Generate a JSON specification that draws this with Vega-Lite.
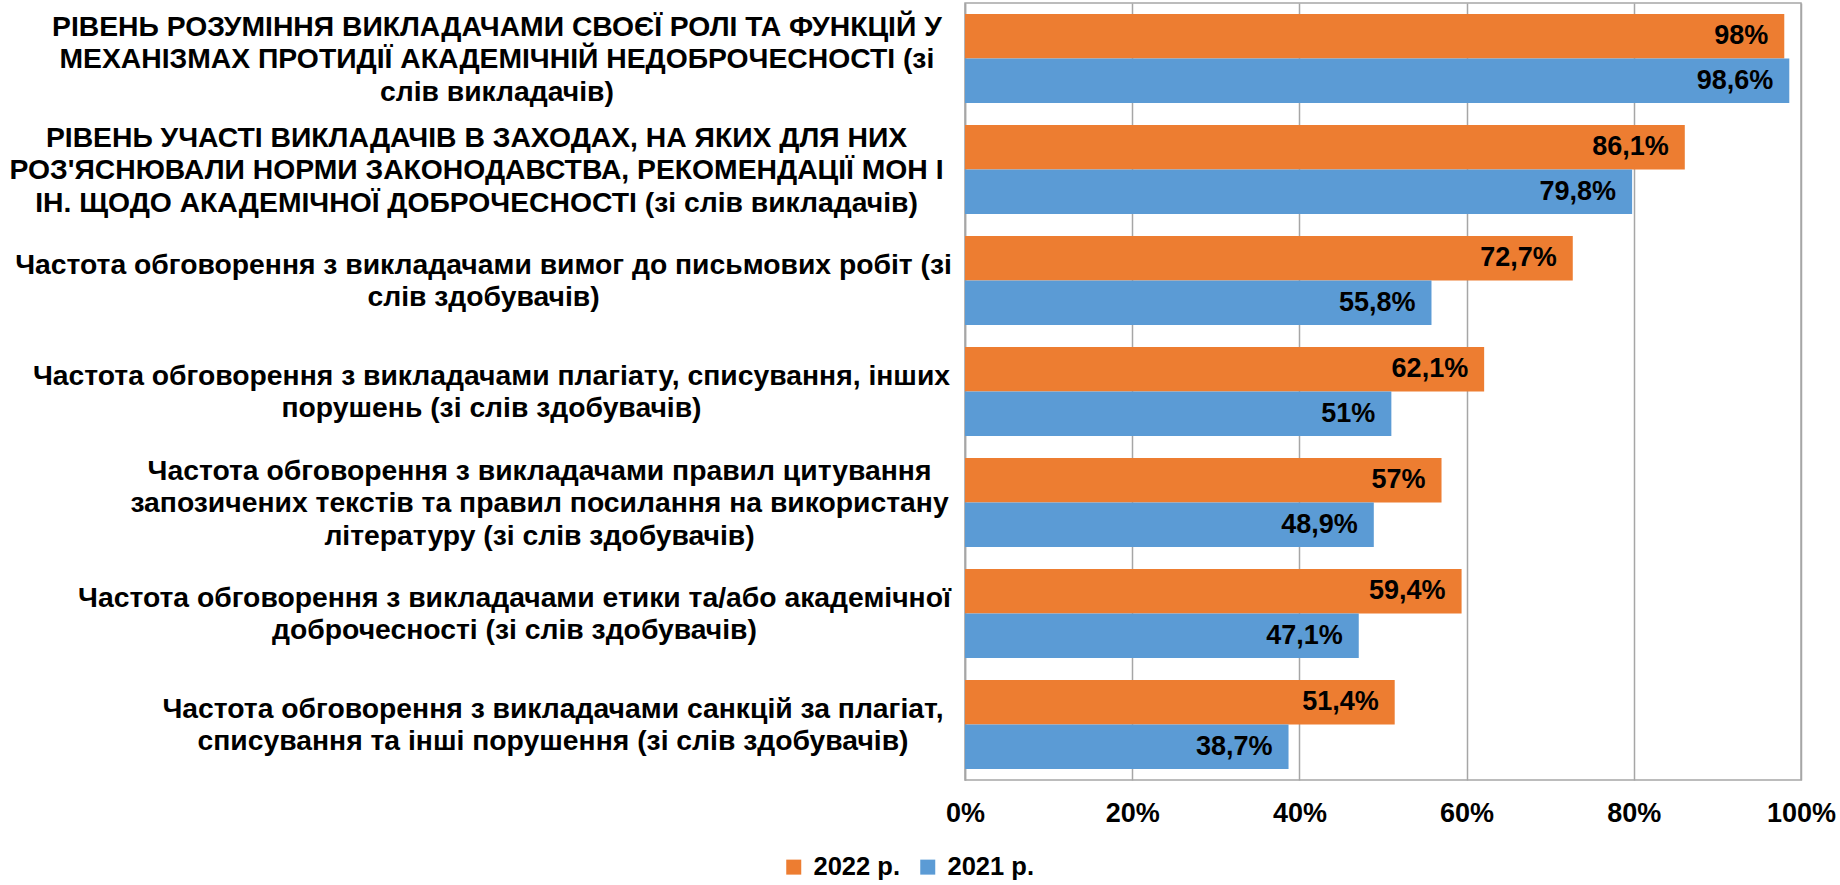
{
  "$schema": "https://vega.github.io/schema/vega-lite/v6.json",
  "autosize": {"type": "none"},
  "width": 836,
  "height": 777,
  "padding": {"left": 965, "top": 3, "right": 39, "bottom": 105},
  "background": "white",
  "data": {
    "values": [
      {"category": "РІВЕНЬ РОЗУМІННЯ ВИКЛАДАЧАМИ СВОЄЇ РОЛІ ТА ФУНКЦІЙ У|МЕХАНІЗМАХ ПРОТИДІЇ АКАДЕМІЧНІЙ НЕДОБРОЧЕСНОСТІ (зі|слів викладачів)", "year": "2022 р.", "value": 0.98},
      {"category": "РІВЕНЬ РОЗУМІННЯ ВИКЛАДАЧАМИ СВОЄЇ РОЛІ ТА ФУНКЦІЙ У|МЕХАНІЗМАХ ПРОТИДІЇ АКАДЕМІЧНІЙ НЕДОБРОЧЕСНОСТІ (зі|слів викладачів)", "year": "2021 р.", "value": 0.986},
      {"category": "РІВЕНЬ УЧАСТІ ВИКЛАДАЧІВ В ЗАХОДАХ, НА ЯКИХ ДЛЯ НИХ|РОЗ'ЯСНЮВАЛИ НОРМИ ЗАКОНОДАВСТВА, РЕКОМЕНДАЦІЇ МОН І|ІН. ЩОДО АКАДЕМІЧНОЇ ДОБРОЧЕСНОСТІ (зі слів викладачів)", "year": "2022 р.", "value": 0.861},
      {"category": "РІВЕНЬ УЧАСТІ ВИКЛАДАЧІВ В ЗАХОДАХ, НА ЯКИХ ДЛЯ НИХ|РОЗ'ЯСНЮВАЛИ НОРМИ ЗАКОНОДАВСТВА, РЕКОМЕНДАЦІЇ МОН І|ІН. ЩОДО АКАДЕМІЧНОЇ ДОБРОЧЕСНОСТІ (зі слів викладачів)", "year": "2021 р.", "value": 0.798},
      {"category": "Частота обговорення з викладачами вимог до письмових робіт (зі|слів здобувачів)", "year": "2022 р.", "value": 0.727},
      {"category": "Частота обговорення з викладачами вимог до письмових робіт (зі|слів здобувачів)", "year": "2021 р.", "value": 0.558},
      {"category": "Частота обговорення з викладачами плагіату, списування, інших|порушень (зі слів здобувачів)", "year": "2022 р.", "value": 0.621},
      {"category": "Частота обговорення з викладачами плагіату, списування, інших|порушень (зі слів здобувачів)", "year": "2021 р.", "value": 0.51},
      {"category": "Частота обговорення з викладачами правил цитування|запозичених текстів та правил посилання на використану|літературу (зі слів здобувачів)", "year": "2022 р.", "value": 0.57},
      {"category": "Частота обговорення з викладачами правил цитування|запозичених текстів та правил посилання на використану|літературу (зі слів здобувачів)", "year": "2021 р.", "value": 0.489},
      {"category": "Частота обговорення з викладачами етики та/або академічної|доброчесності (зі слів здобувачів)", "year": "2022 р.", "value": 0.594},
      {"category": "Частота обговорення з викладачами етики та/або академічної|доброчесності (зі слів здобувачів)", "year": "2021 р.", "value": 0.471},
      {"category": "Частота обговорення з викладачами санкцій за плагіат,|списування та інші порушення (зі слів здобувачів)", "year": "2022 р.", "value": 0.514},
      {"category": "Частота обговорення з викладачами санкцій за плагіат,|списування та інші порушення (зі слів здобувачів)", "year": "2021 р.", "value": 0.387}
    ]
  },
  "encoding": {
    "y": {
      "field": "category",
      "type": "nominal",
      "sort": null,
      "title": null,
      "scale": {"paddingInner": 0.2, "paddingOuter": 0.1},
      "axis": {
        "labelExpr": "split(datum.label, '|')",
        "labelAlign": "center",
        "labelBaseline": "middle",
        "labelFont": "Liberation Sans",
        "labelFontWeight": "bold",
        "labelFontSize": 28.3,
        "labelLineHeight": 32.5,
        "labelColor": "#000000",
        "labelLimit": 0,
        "ticks": false,
        "tickSize": 0,
        "domainColor": "#A6A6A6",
        "domainWidth": 1.5,
        "grid": false,
        "labelOffset": {
          "condition": [
            {"test": "length(split(datum.value, '|')) == 3", "value": -31},
            {"test": "length(split(datum.value, '|')) == 2", "value": -15}
          ],
          "value": 0
        },
        "labelPadding": {
          "condition": [
            {"test": "indexof(datum.value, 'РОЗУМІННЯ') >= 0", "value": 468.6},
            {"test": "indexof(datum.value, 'УЧАСТІ') >= 0", "value": 489},
            {"test": "indexof(datum.value, 'вимог') >= 0", "value": 482},
            {"test": "indexof(datum.value, 'плагіату') >= 0", "value": 474},
            {"test": "indexof(datum.value, 'цитування') >= 0", "value": 426},
            {"test": "indexof(datum.value, 'етики') >= 0", "value": 451}
          ],
          "value": 412.5
        }
      }
    },
    "yOffset": {"field": "year", "type": "nominal", "sort": ["2022 р.", "2021 р."]},
    "x": {
      "field": "value",
      "type": "quantitative",
      "title": null,
      "scale": {"domain": [0, 1]},
      "axis": {
        "values": [0, 0.2, 0.4, 0.6, 0.8, 1],
        "format": ".0%",
        "labelFont": "Liberation Sans",
        "labelFontWeight": "bold",
        "labelFontSize": 27,
        "labelColor": "#000000",
        "labelPadding": 20,
        "ticks": false,
        "tickSize": 0,
        "domain": false,
        "grid": true,
        "gridColor": "#A6A6A6",
        "gridWidth": 1.5,
        "labelFlush": false
      }
    }
  },
  "layer": [
    {
      "mark": {"type": "bar"},
      "encoding": {
        "color": {
          "field": "year",
          "type": "nominal",
          "sort": ["2022 р.", "2021 р."],
          "scale": {"domain": ["2022 р.", "2021 р."], "range": ["#ED7D31", "#5B9BD5"]},
          "legend": {
            "title": null,
            "orient": "none",
            "direction": "horizontal",
            "legendX": -184,
            "legendY": 851,
            "symbolType": "square",
            "symbolSize": 225,
            "symbolStrokeWidth": 0,
            "symbolOpacity": 1,
            "labelFont": "Liberation Sans",
            "labelFontWeight": "bold",
            "labelFontSize": 25.5,
            "labelColor": "#000000",
            "labelOffset": 7,
            "columnPadding": 15,
            "padding": 0
          }
        }
      }
    },
    {
      "mark": {
        "type": "text",
        "align": "right",
        "baseline": "middle",
        "dx": -16,
        "font": "Liberation Sans",
        "fontWeight": "bold",
        "fontSize": 27,
        "color": "#000000"
      },
      "encoding": {
        "text": {"field": "value", "type": "quantitative", "format": ".1~%"}
      }
    }
  ],
  "config": {
    "locale": {"number": {"decimal": ",", "thousands": " ", "grouping": [3], "currency": ["", " грн"]}},
    "view": {"stroke": "#A6A6A6", "strokeWidth": 1.5}
  }
}
